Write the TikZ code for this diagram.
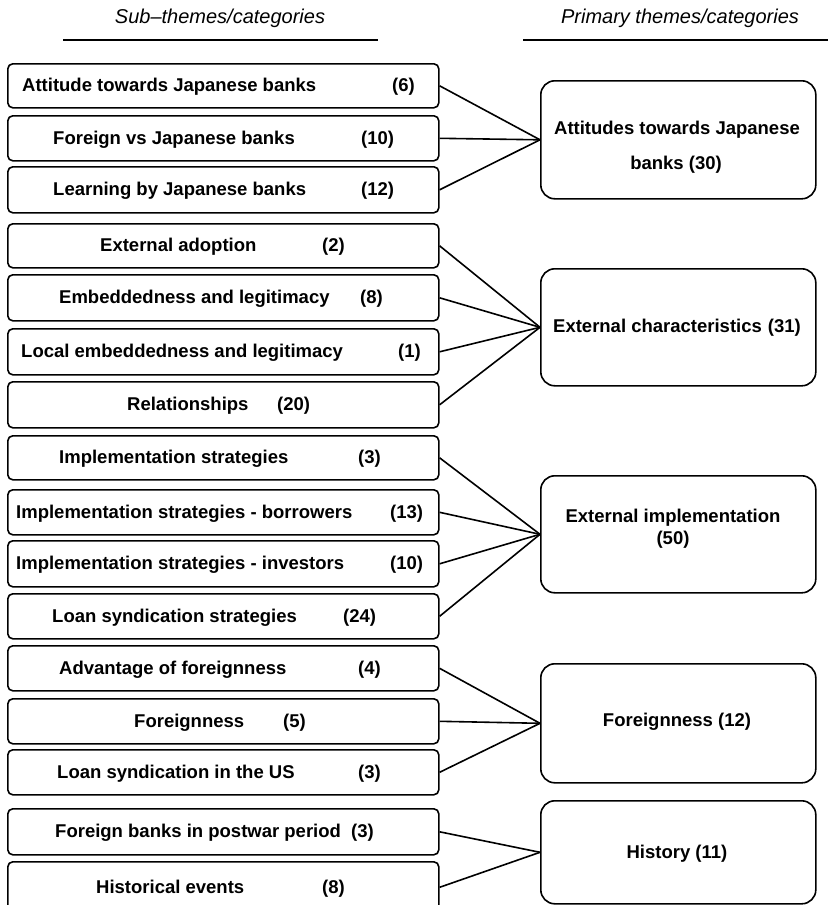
\documentclass[tikz,border=0pt]{standalone}
\usepackage{fontspec}
\setmainfont{Liberation Sans}
\begin{document}
\begin{tikzpicture}[x=1pt,y=-1pt,
  subbox/.style={draw, line width=1.6pt, rounded corners=5pt, minimum width=431pt,
    anchor=north west, inner sep=0pt},
  mainbox/.style={draw, line width=1.6pt, rounded corners=14pt, minimum width=275pt,
    anchor=north west, inner sep=0pt},
  lbl/.style={inner sep=0pt, font=\fontsize{18.5}{22}\selectfont\bfseries,
    text height=13.2pt, text depth=0pt},
  hdr/.style={inner sep=0pt, font=\fontsize{20}{24}\selectfont\itshape},
  link/.style={line width=1.6pt},
  rule/.style={line width=1.5pt}]
\useasboundingbox (0,0) rectangle (828,905);
\clip (0,0) rectangle (828,905);

% column headings
\node[hdr] (h1) at (220,18) {Sub–themes/categories};
\node[hdr] (h2) at (680,18) {Primary themes/categories};
\draw[rule] (63,40) -- (378,40);
\draw[rule] (523,40) -- (828,40);

% one sub-category box: name, top, bottom, text, text x, count, count x
\newcommand\SubCat[7]{%
  \node[subbox, minimum height=#3-#2] (#1) at (7,#2) {};
  \node[lbl, anchor=west] (#1-t) at (#5,{(#2+#3)/2}) {#4};
  \node[lbl, anchor=west] (#1-n) at (#7,{(#2+#3)/2}) {#6};
}

\SubCat{s1}{63}{107}{Attitude towards Japanese banks}{22}{(6)}{392}
\SubCat{s2}{115}{160}{Foreign vs Japanese banks}{53}{(10)}{361}
\SubCat{s3}{166}{212}{Learning by Japanese banks}{53}{(12)}{361}
\SubCat{s4}{223}{267}{External adoption}{100}{(2)}{322}
\SubCat{s5}{274}{320}{Embeddedness and legitimacy}{59}{(8)}{360}
\SubCat{s6}{328}{374}{Local embeddedness and legitimacy}{21}{(1)}{398}
\SubCat{s7}{381}{427}{Relationships}{127}{(20)}{277}
\SubCat{s8}{435}{479}{Implementation strategies}{59}{(3)}{358}
\SubCat{s9}{489}{534}{Implementation strategies - borrowers}{16}{(13)}{390}
\SubCat{s10}{540}{586}{Implementation strategies - investors}{16}{(10)}{390}
\SubCat{s11}{593}{638}{Loan syndication strategies}{52}{(24)}{343}
\SubCat{s12}{645}{690}{Advantage of foreignness}{59}{(4)}{358}
\SubCat{s13}{698}{743}{Foreignness}{134}{(5)}{283}
\SubCat{s14}{749}{794}{Loan syndication in the US}{57}{(3)}{358}
\SubCat{s15}{808}{854}{Foreign banks in postwar period}{55}{(3)}{351}
\SubCat{s16}{861}{912}{Historical events}{96}{(8)}{322}

% primary themes
\node[mainbox, minimum height=118pt] (p1) at (540,80) {};
\node[lbl] (p1-a) at (677,128) {Attitudes towards Japanese};
\node[lbl] (p1-b) at (676,163) {banks (30)};

\node[mainbox, minimum height=117pt] (p2) at (540,268) {};
\node[lbl] (p2-a) at (677,326) {External characteristics\hspace{6pt}(31)};

\node[mainbox, minimum height=117pt] (p3) at (540,475) {};
\node[lbl] (p3-a) at (673,516) {External implementation};
\node[lbl] (p3-b) at (673,538) {(50)};

\node[mainbox, minimum height=119pt] (p4) at (540,663) {};
\node[lbl] (p4-a) at (677,720) {Foreignness (12)};

\node[mainbox, minimum height=103pt] (p5) at (540,800) {};
\node[lbl] (p5-a) at (677,852) {History (11)};

% links from sub-categories to primary themes
\foreach \s in {s1,s2,s3} \draw[link] (\s.east) -- (p1.west);
\foreach \s in {s4,s5,s6,s7} \draw[link] (\s.east) -- (p2.west);
\foreach \s in {s8,s9,s10,s11} \draw[link] (\s.east) -- (p3.west);
\foreach \s in {s12,s13,s14} \draw[link] (\s.east) -- (p4.west);
\foreach \s in {s15,s16} \draw[link] (\s.east) -- (p5.west);
\end{tikzpicture}
\end{document}
